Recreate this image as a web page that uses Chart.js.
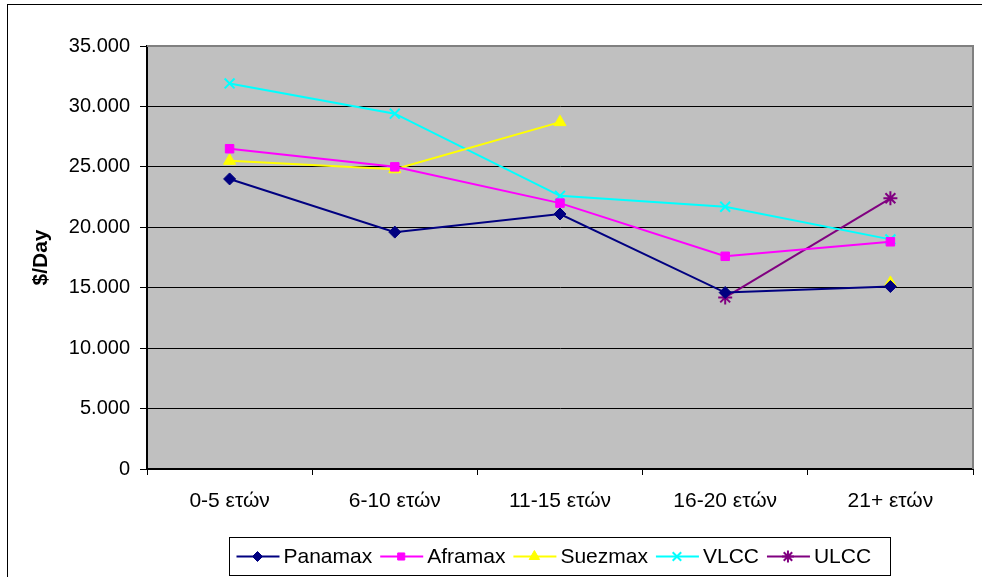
<!DOCTYPE html>
<html>
<head>
<meta charset="utf-8">
<title>$/Day ανά ηλικία πλοίου</title>
<script src="https://cdn.jsdelivr.net/npm/chart.js@4.4.1/dist/chart.umd.min.js"></script>
<style>
    html, body { margin: 0; padding: 0; background: #fff; }
    #wrap { position: relative; width: 982px; height: 577px; }
</style>
</head>
<body>
<div id="wrap"><canvas id="ageChart" width="982" height="577"></canvas></div>
<script>
// Daily earnings by vessel age band
const ageBands = ['0-5 ετών', '6-10 ετών', '11-15 ετών', '16-20 ετών', '21+ ετών'];
const panamax = [24000, 19600, 21100, 14600, 15100];
const aframax = [26500, 25000, 22000, 17600, 18800];
const suezmax = [25500, 24800, 28700, null, 15400];
const vlcc    = [31900, 29400, 22600, 21700, 19000];
const ulcc    = [null, null, null, 14200, 22400];
const yTicks  = [0, 5000, 10000, 15000, 20000, 25000, 30000, 35000];

const FONT = "'Liberation Sans', Arial, sans-serif";

function fmt(v) {
    return String(v).replace(/\B(?=(\d{3})+(?!\d))/g, '.');
}

function series(label, data, color, pointStyle, radius) {
    return {
        label,
        data,
        borderColor: color,
        backgroundColor: color,
        borderWidth: 2,
        pointStyle,
        pointRadius: radius,
        pointBorderColor: color,
        pointBackgroundColor: color,
        pointBorderWidth: pointStyle === 'crossRot' || pointStyle === 'star' ? 2 : 1,
        spanGaps: false,
        tension: 0
    };
}

// grey plot background + outer frame
const frame = {
    id: 'frame',
    beforeDraw(chart) {
        const { ctx, chartArea: a } = chart;
        ctx.save();
        ctx.fillStyle = '#fff';
        ctx.fillRect(0, 0, chart.width, chart.height);
        ctx.strokeStyle = '#000';
        ctx.lineWidth = 1;
        ctx.strokeRect(7.5, 4.5, chart.width + 20, chart.height + 20);
        ctx.fillStyle = '#c0c0c0';
        ctx.fillRect(a.left, a.top, a.right - a.left, a.bottom - a.top);
        ctx.restore();
    },
    afterDatasetsDraw(chart) {
        const { ctx, chartArea: a } = chart;
        ctx.save();
        ctx.strokeStyle = '#808080';
        ctx.lineWidth = 2;
        ctx.beginPath();
        ctx.moveTo(a.left, a.top);
        ctx.lineTo(a.right, a.top);
        ctx.lineTo(a.right, a.bottom);
        ctx.stroke();
        ctx.restore();
    }
};

// boxed legend: line segment with marker, then label
const boxLegend = {
    id: 'boxLegend',
    afterDraw(chart) {
        const { ctx } = chart;
        const x0 = 229.5, y0 = 537.5, w = 661, h = 38;
        ctx.save();
        ctx.fillStyle = '#fff';
        ctx.fillRect(x0, y0, w, h);
        ctx.strokeStyle = '#000';
        ctx.lineWidth = 1;
        ctx.strokeRect(x0, y0, w, h);
        ctx.font = '21px ' + FONT;
        ctx.textBaseline = 'middle';
        const cy = y0 + h / 2;
        let x = x0 + 7;
        chart.data.datasets.forEach(ds => {
            ctx.strokeStyle = ds.borderColor;
            ctx.fillStyle = ds.borderColor;
            ctx.lineWidth = 2;
            ctx.beginPath();
            ctx.moveTo(x, cy);
            ctx.lineTo(x + 43, cy);
            ctx.stroke();
            ctx.lineWidth = ds.pointBorderWidth;
            Chart.helpers.drawPoint(ctx, {
                pointStyle: ds.pointStyle,
                radius: ds.pointRadius - 1,
                borderWidth: ds.pointBorderWidth,
                rotation: 0
            }, x + 21, cy);
            ctx.fillStyle = '#000';
            ctx.fillText(ds.label, x + 47, cy + 1);
            x += 47 + ctx.measureText(ds.label).width + 8;
        });
        ctx.restore();
    }
};

new Chart(document.getElementById('ageChart'), {
    type: 'line',
    data: {
        labels: ageBands,
        datasets: [
            series('Panamax', panamax, '#000080', 'rectRot', 6),
            series('Aframax', aframax, '#ff00ff', 'rect', 6),
            series('Suezmax', suezmax, '#ffff00', 'triangle', 7),
            series('VLCC', vlcc, '#00ffff', 'crossRot', 7),
            series('ULCC', ulcc, '#800080', 'star', 7)
        ]
    },
    options: {
        responsive: false,
        animation: false,
        layout: { padding: { left: 8, top: 46, right: 1, bottom: 0 } },
        plugins: {
            legend: { display: false },
            tooltip: { enabled: false }
        },
        scales: {
            x: {
                offset: true,
                afterFit(scale) { scale.height = 108; },
                grid: {
                    offset: true,
                    drawOnChartArea: false,
                    drawTicks: true,
                    tickLength: 6,
                    color: '#000'
                },
                border: { color: '#000', width: 2 },
                ticks: {
                    color: '#000',
                    padding: 14,
                    maxRotation: 0,
                    font: { family: FONT, size: 21 }
                }
            },
            y: {
                min: 0,
                max: 35000,
                afterFit(scale) { scale.width = 139; },
                afterBuildTicks(scale) { scale.ticks = yTicks.map(v => ({ value: v })); },
                grid: {
                    color: '#000',
                    lineWidth: 1,
                    tickLength: 7,
                    tickColor: '#000'
                },
                border: { color: '#000', width: 2 },
                ticks: {
                    color: '#000',
                    padding: 10,
                    font: { family: FONT, size: 20 },
                    callback: v => fmt(v)
                },
                title: {
                    display: true,
                    text: '$/Day',
                    color: '#000',
                    padding: { top: 21, bottom: 0 },
                    font: { family: FONT, size: 21, weight: 'bold' }
                }
            }
        }
    },
    plugins: [frame, boxLegend]
});
</script>
</body>
</html>
